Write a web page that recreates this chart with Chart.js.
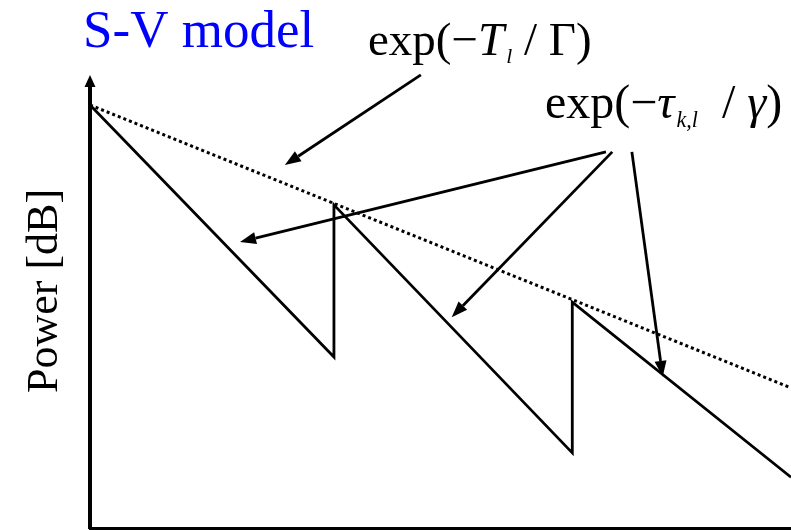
<!DOCTYPE html>
<html>
<head>
<meta charset="utf-8">
<script src="https://cdn.jsdelivr.net/npm/chart.js@4.4.1/dist/chart.umd.min.js"></script>
<style>
  html, body { margin: 0; padding: 0; background: #fff; }
  #wrap { width: 791px; height: 530px; position: relative; }
</style>
</head>
<body>
<div id="wrap"><canvas id="svChart"></canvas></div>
<script>
// Saleh-Valenzuela power delay profile (schematic, arbitrary units)
const profileDelay = [0, 34.8, 34.8, 68.8, 68.8, 100];
const profilePower = [95.7, 38.7, 73.1, 17.0, 51.1, 11.5];

// cluster envelope
const envelopeDelay = [0, 100];
const envelopePower = [95.7, 31.7];

// annotation arrows, tail -> head, same units as the data
const arrowTailDelay = [47.2, 73.6, 74.5, 77.3];
const arrowTailPower = [102.5, 85.1, 85.1, 85.1];
const arrowHeadDelay = [27.8, 21.4, 51.6, 81.7];
const arrowHeadPower = [82.1, 64.7, 47.7, 34.2];

const chartTitle = 'S-V model';
const yAxisTitle = 'Power [dB]';
// formula labels: [text, style] where i = italic, s = subscript
const clusterLabel = [['exp(\u2212', ''], ['T', 'i'], ['l', 'is'], [' / \u0393)', '']];
const rayLabel = [['exp(\u2212', ''], ['\u03c4', 'i'], ['k,l', 'is'], ['  / ', ''], ['\u03b3', 'i'], [')', '']];

const SERIF = '"Liberation Serif", "Times New Roman", serif';

function toPoints(xs, ys) {
  return xs.map((v, i) => ({ x: v, y: ys[i] }));
}

function drawFormula(ctx, parts, x, baseline, size) {
  let cx = x;
  parts.forEach(([text, style]) => {
    const italic = style.includes('i');
    const sub = style.includes('s');
    const fs = sub ? size * 0.46 : size;
    ctx.font = `${italic ? 'italic ' : ''}${fs}px ${SERIF}`;
    if (sub) cx += 2;
    ctx.fillText(text, cx, baseline + (sub ? size * 0.18 : 0));
    cx += ctx.measureText(text).width;
  });
}

const annotationPlugin = {
  id: 'svAnnotations',
  afterDatasetsDraw(chart) {
    const { ctx, chartArea, scales: { x, y } } = chart;
    ctx.save();
    ctx.fillStyle = '#000';
    ctx.strokeStyle = '#000';

    // arrow head on top of the power axis
    ctx.beginPath();
    ctx.moveTo(chartArea.left, chartArea.top - 11);
    ctx.lineTo(chartArea.left - 5.5, chartArea.top + 1);
    ctx.lineTo(chartArea.left + 5.5, chartArea.top + 1);
    ctx.closePath();
    ctx.fill();

    // pointer arrows
    ctx.lineWidth = 2.8;
    arrowTailDelay.forEach((_, i) => {
      const x0 = x.getPixelForValue(arrowTailDelay[i]);
      const y0 = y.getPixelForValue(arrowTailPower[i]);
      const x1 = x.getPixelForValue(arrowHeadDelay[i]);
      const y1 = y.getPixelForValue(arrowHeadPower[i]);
      const ang = Math.atan2(y1 - y0, x1 - x0);
      const len = 16, half = 6;
      const bx = x1 - len * Math.cos(ang);
      const by = y1 - len * Math.sin(ang);
      ctx.beginPath();
      ctx.moveTo(x0, y0);
      ctx.lineTo(bx, by);
      ctx.stroke();
      ctx.beginPath();
      ctx.moveTo(x1, y1);
      ctx.lineTo(bx - half * Math.sin(ang), by + half * Math.cos(ang));
      ctx.lineTo(bx + half * Math.sin(ang), by - half * Math.cos(ang));
      ctx.closePath();
      ctx.fill();
    });

    // texts
    ctx.textAlign = 'left';
    ctx.textBaseline = 'alphabetic';
    ctx.fillStyle = '#0000ff';
    ctx.font = `53px ${SERIF}`;
    ctx.fillText(chartTitle, 83, 47);

    ctx.fillStyle = '#000';
    drawFormula(ctx, clusterLabel, 368, 55, 47);
    drawFormula(ctx, rayLabel, 545, 118, 48);

    ctx.translate(57, 291);
    ctx.rotate(-Math.PI / 2);
    ctx.textAlign = 'center';
    ctx.font = `44px ${SERIF}`;
    ctx.fillText(yAxisTitle, 0, 0);
    ctx.restore();
  }
};

new Chart(document.getElementById('svChart'), {
  type: 'line',
  data: {
    datasets: [
      {
        label: 'Power delay profile',
        data: toPoints(profileDelay, profilePower),
        borderColor: '#000',
        borderWidth: 2.8,
        pointRadius: 0,
        tension: 0,
        fill: false
      },
      {
        label: 'Cluster envelope',
        data: toPoints(envelopeDelay, envelopePower),
        borderColor: '#000',
        borderWidth: 3,
        borderDash: [3, 3],
        pointRadius: 0,
        tension: 0,
        fill: false
      }
    ]
  },
  options: {
    responsive: true,
    maintainAspectRatio: false,
    animation: false,
    layout: { padding: { top: 86, left: 0, right: 0, bottom: 0 } },
    plugins: {
      legend: { display: false },
      tooltip: { enabled: false },
      title: { display: false }
    },
    scales: {
      x: {
        type: 'linear',
        min: 0,
        max: 100,
        ticks: { display: false },
        grid: { display: false },
        border: { display: true, color: '#000', width: 3 },
        afterFit(scale) { scale.height = 2; }
      },
      y: {
        min: 0,
        max: 100,
        ticks: { display: false },
        grid: { display: false },
        border: { display: true, color: '#000', width: 4 },
        afterFit(scale) { scale.width = 90; }
      }
    }
  },
  plugins: [annotationPlugin]
});
</script>
</body>
</html>
